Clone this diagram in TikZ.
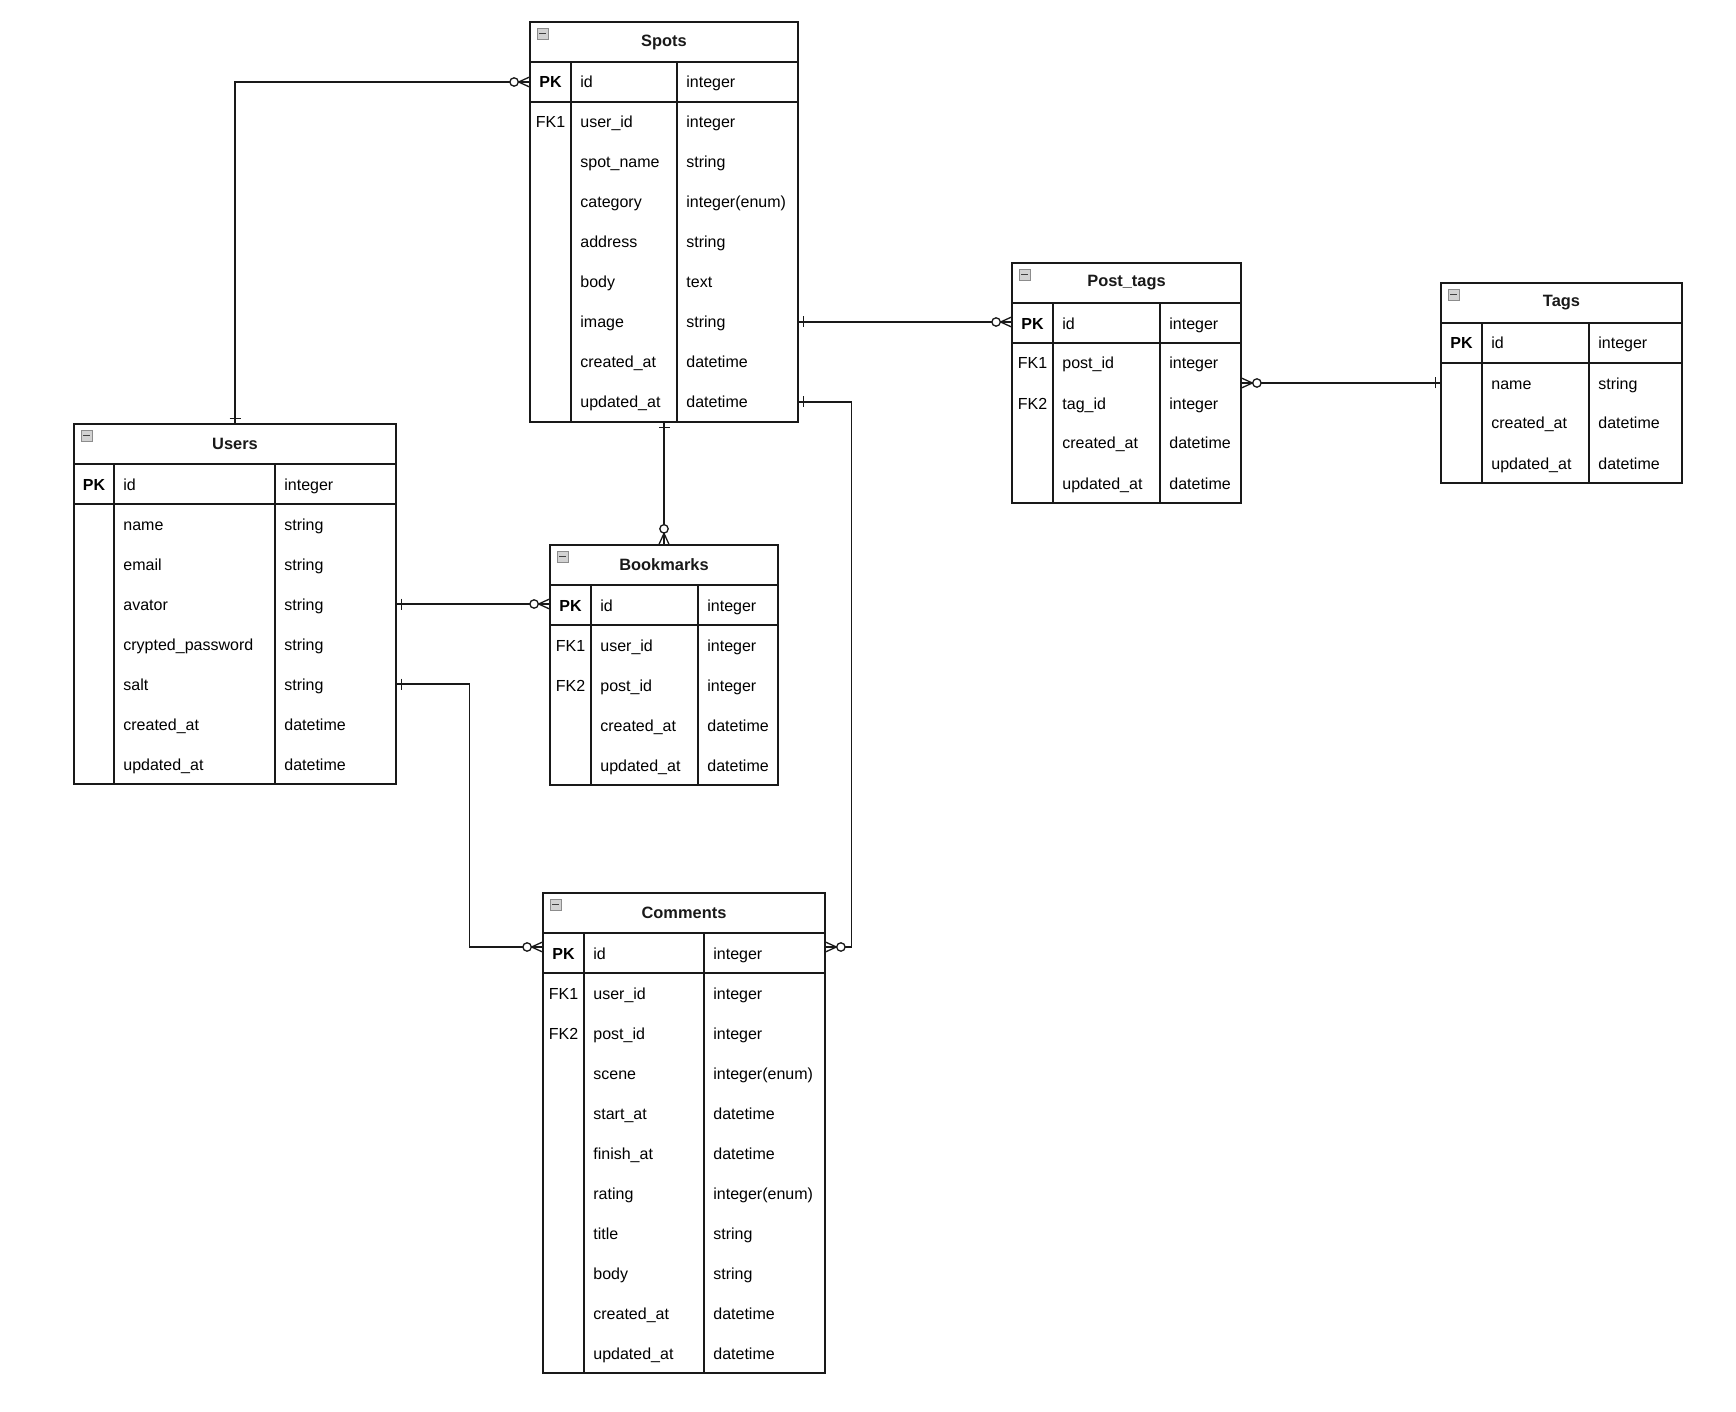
\documentclass[tikz,border=0pt]{standalone}
\usepackage{fontspec}
\setmainfont{Liberation Sans}
\usepackage{tikz}
\usetikzlibrary{decorations.markings}

\tikzset{
  erline/.style={line width=0.65pt, black!90},
  erhead/.style={erline, draw, minimum height=20pt, inner sep=0pt, font=\fontsize{8.2}{9.6}\selectfont\bfseries},
  errow/.style={minimum height=20pt, inner sep=0pt},
  erkey/.style={inner sep=0pt, text height=6.5pt, text depth=1.5pt, font=\fontsize{8}{9.6}\selectfont},
  ertext/.style={anchor=west, inner sep=0pt, text height=6.5pt, text depth=1.5pt, font=\fontsize{8}{9.6}\selectfont},
  ericon/.style={draw=gray!90, fill=gray!35, line width=0.4pt},
  % one (start) -- zero or many (end)
  erlink/.style={erline, postaction={decorate, decoration={markings,
    mark=at position 0 with {\draw[erline] (5,-5.5) -- (5,5.5);},
    mark=at position 1 with {\draw[erline] (-11,0) -- (0,-5) (-11,0) -- (0,5);
      \draw[erline, fill=white] (-15.5,0) circle[radius=2.1pt];}}}}
}

% #1 name, #2 left, #3 top, #4-#6 column widths, #7 title, #8 rows key/field/type
\newcommand{\ertable}[8]{%
  \pgfmathsetmacro{\ertw}{#4+#5+#6}
  \node[erhead, minimum width=\ertw*0.5pt] (#1) at ({#2+\ertw/2},{#3+20}) {#7};
  \draw[ericon] ({#2+7},{#3+6}) rectangle ++(11,11);
  \draw[black!75, line width=0.6pt] ({#2+9},{#3+11.5}) -- ++(7,0);
  \foreach \k/\f/\t [count=\i from 0] in {#8}{
    \node[errow, minimum width=\ertw*0.5pt] (#1-\i) at ({#2+\ertw/2},{#3+60+40*\i}) {};
    \node[erkey] (#1-\i-k) at ({#2+#4/2},{#3+61+40*\i}) {\k};
    \node[ertext] (#1-\i-f) at ({#2+#4+9},{#3+61+40*\i}) {\f};
    \node[ertext] (#1-\i-t) at ({#2+#4+#5+9},{#3+61+40*\i}) {\t};
    \xdef\errows{\i}
  }
  \draw[erline] (#2,#3) rectangle ({#2+\ertw},{#3+80+40*\errows});
  \draw[erline] (#2,{#3+80}) -- ++(\ertw,0);
  \draw[erline] ({#2+#4},{#3+40}) -- ({#2+#4},{#3+80+40*\errows});
  \draw[erline] ({#2+#4+#5},{#3+40}) -- ({#2+#4+#5},{#3+80+40*\errows});
}

\begin{document}
\begin{tikzpicture}[x=0.5pt, y=-0.5pt]
  \useasboundingbox (0,0) rectangle (1736,1412);

  % --- tables ---
  \ertable{spots}{530}{22}{41}{106}{121}{Spots}{%
    \textbf{PK}/id/integer, FK1/user\_id/integer, {}/spot\_name/string,
    {}/category/integer(enum), {}/address/string, {}/body/text,
    {}/image/string, {}/created\_at/datetime, {}/updated\_at/datetime}
  \ertable{users}{74}{424}{40}{161}{121}{Users}{%
    \textbf{PK}/id/integer, {}/name/string, {}/email/string, {}/avator/string,
    {}/crypted\_password/string, {}/salt/string, {}/created\_at/datetime,
    {}/updated\_at/datetime}
  \ertable{bookmarks}{550}{545}{41}{107}{80}{Bookmarks}{%
    \textbf{PK}/id/integer, FK1/user\_id/integer, FK2/post\_id/integer,
    {}/created\_at/datetime, {}/updated\_at/datetime}
  \ertable{comments}{543}{893}{41}{120}{121}{Comments}{%
    \textbf{PK}/id/integer, FK1/user\_id/integer, FK2/post\_id/integer,
    {}/scene/integer(enum), {}/start\_at/datetime, {}/finish\_at/datetime,
    {}/rating/integer(enum), {}/title/string, {}/body/string,
    {}/created\_at/datetime, {}/updated\_at/datetime}
  \ertable{posttags}{1012}{263}{41}{107}{81}{Post\_tags}{%
    \textbf{PK}/id/integer, FK1/post\_id/integer, FK2/tag\_id/integer,
    {}/created\_at/datetime, {}/updated\_at/datetime}
  \ertable{tags}{1441}{283}{41}{107}{93}{Tags}{%
    \textbf{PK}/id/integer, {}/name/string, {}/created\_at/datetime,
    {}/updated\_at/datetime}

  % --- relations ---
  \draw[erlink] (users.north) |- (spots-0.west);
  \draw[erlink] (spots-8.south) -- (bookmarks.north);
  \draw[erlink] (users-3.east) -- (users-3.east -| bookmarks-0.west);
  \draw[erlink] (users-5.east) -- ++(73,0) |- ([yshift=3pt]comments-0.west);
  \draw[erlink] (spots-8.east) -- ++(53,0) |- ([yshift=3pt]comments-0.east);
  \draw[erlink] (spots-6.east) -- (spots-6.east -| posttags-0.west);
  \draw[erlink] (tags-1.west) -- (tags-1.west -| posttags-1.east);
\end{tikzpicture}
\end{document}
